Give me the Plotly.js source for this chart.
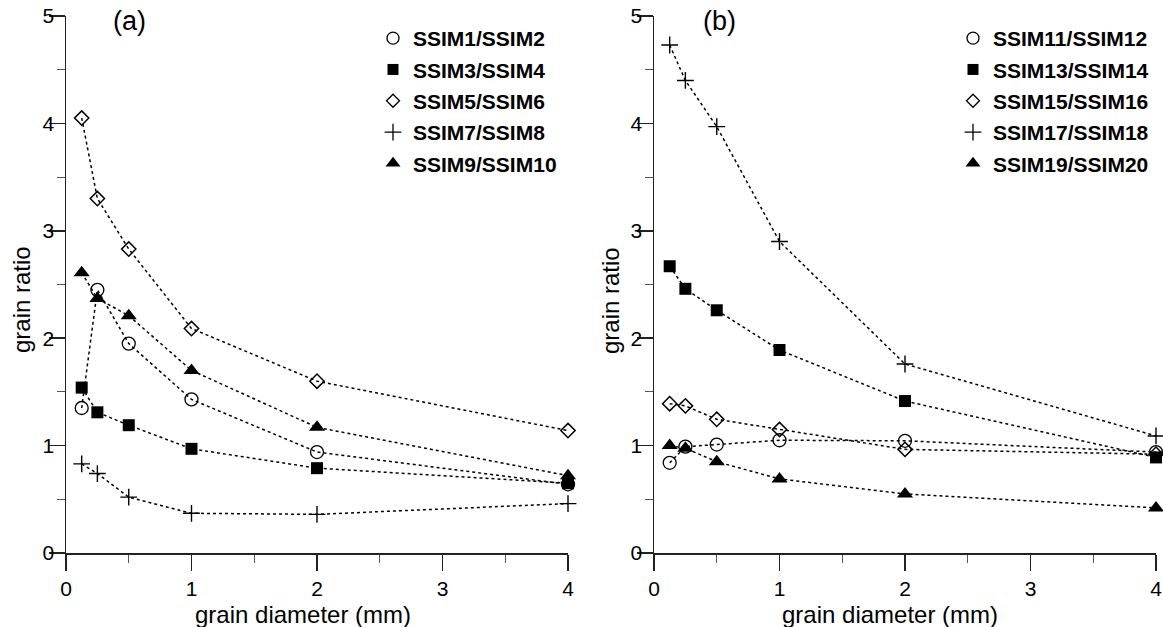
<!DOCTYPE html>
<html><head><meta charset="utf-8">
<script src="https://cdn.plot.ly/plotly-3.0.1.min.js"></script>
<style>html,body{margin:0;padding:0;background:#fff}</style>
</head><body>
<div id="chart" style="width:1163px;height:627px"></div>
<script>
const diameters = [0.125, 0.25, 0.5, 1, 2, 4];

const namesA = ['SSIM1/SSIM2', 'SSIM3/SSIM4', 'SSIM5/SSIM6', 'SSIM7/SSIM8', 'SSIM9/SSIM10'];
const ssim1_2   = [1.35, 2.45, 1.95, 1.43, 0.94, 0.64];
const ssim3_4   = [1.54, 1.31, 1.19, 0.97, 0.79, 0.65];
const ssim5_6   = [4.05, 3.30, 2.83, 2.09, 1.60, 1.14];
const ssim7_8   = [0.83, 0.74, 0.52, 0.37, 0.36, 0.46];
const ssim9_10  = [2.61, 2.37, 2.21, 1.70, 1.17, 0.72];

const namesB = ['SSIM11/SSIM12', 'SSIM13/SSIM14', 'SSIM15/SSIM16', 'SSIM17/SSIM18', 'SSIM19/SSIM20'];
const ssim11_12 = [0.84, 0.99, 1.01, 1.05, 1.045, 0.94];
const ssim13_14 = [2.67, 2.46, 2.26, 1.89, 1.415, 0.89];
const ssim15_16 = [1.39, 1.37, 1.245, 1.15, 0.965, 0.92];
const ssim17_18 = [4.73, 4.40, 3.97, 2.90, 1.76, 1.09];
const ssim19_20 = [1.00, 0.975, 0.85, 0.69, 0.55, 0.42];

const xTitle = 'grain diameter (mm)';
const yTitle = 'grain ratio';
const panelLabels = ['(a)', '(b)'];

const seriesA = [ssim1_2, ssim3_4, ssim5_6, ssim7_8, ssim9_10];
const seriesB = [ssim11_12, ssim13_14, ssim15_16, ssim17_18, ssim19_20];

const markers = [
  {symbol: 'circle-open', size: 13, color: '#000', line: {width: 1.3, color: '#000'}},
  {symbol: 'square', size: 12, color: '#000', line: {width: 0}},
  {symbol: 'diamond-open', size: 11, color: '#000', line: {width: 1.5, color: '#000'}},
  {symbol: 'cross-thin-open', size: 12, color: '#000', line: {width: 1.4, color: '#000'}},
  {symbol: 'triangle-up', size: 14, color: '#000', line: {width: 0}}
];
const legMarkers = [
  {symbol: 'circle-open', size: 12, color: '#000', line: {width: 1.3, color: '#000'}},
  {symbol: 'square', size: 11, color: '#000', line: {width: 0}},
  {symbol: 'diamond-open', size: 10, color: '#000', line: {width: 1.3, color: '#000'}},
  {symbol: 'cross-thin-open', size: 12, color: '#000', line: {width: 1.3, color: '#000'}},
  {symbol: 'triangle-up', size: 13, color: '#000', line: {width: 0}}
];

const traces = [];
function addPanel(series, names, xa, ya, leg) {
  series.forEach((vals, i) => {
    traces.push({
      x: diameters, y: vals, xaxis: xa, yaxis: ya, mode: 'lines+markers',
      line: {color: '#000', width: 1.5, dash: 'dot'},
      marker: markers[i], showlegend: false, cliponaxis: false, hoverinfo: 'skip'
    });
  });
  names.forEach((n, i) => {
    traces.push({
      x: [null], y: [null], xaxis: xa, yaxis: ya, mode: 'markers', name: n,
      marker: legMarkers[i], legend: leg, legendgroup: leg + i, showlegend: true
    });
  });
}
addPanel(seriesA, namesA, 'x', 'y', 'legend');
addPanel(seriesB, namesB, 'x2', 'y2', 'legend2');

const FAM = 'Liberation Sans, Arial, sans-serif';
const tickFont = {family: FAM, size: 21, color: '#000'};
const titleFont = {family: FAM, size: 24, color: '#000'};
function xaxis(domain, anchor) {
  return {
    domain: domain, anchor: anchor, range: [0, 4], dtick: 1, tick0: 0,
    showline: true, linecolor: '#222', linewidth: 1.5, ticks: 'outside', ticklen: 16,
    tickwidth: 1.5, tickcolor: '#222', showgrid: false, zeroline: false, mirror: false,
    tickfont: tickFont, minor: {dtick: 0.5, ticklen: 8, tickwidth: 1, tickcolor: '#555', ticks: 'outside', showgrid: false},
    automargin: false
  };
}
function yaxis(anchor) {
  return {
    domain: [0.118, 0.9745], anchor: anchor, range: [0, 5], dtick: 1, tick0: 0,
    showline: true, linecolor: '#222', linewidth: 1.5, ticks: 'outside', ticklen: 16,
    tickwidth: 1.5, tickcolor: '#222', showgrid: false, zeroline: false,
    tickfont: tickFont, ticklabelstandoff: -10,
    minor: {dtick: 0.5, ticklen: 8, tickwidth: 1, tickcolor: '#555', ticks: 'outside', showgrid: false},
    automargin: false
  };
}
const legFont = {family: FAM, size: 21, color: '#000', weight: 'bold'};
const W = 1163, H = 627;
const px = v => v / W, py = v => 1 - v / H;
function ann(text, x, y, font, extra) {
  return Object.assign({text: text, xref: 'paper', yref: 'paper', x: px(x), y: py(y),
    xanchor: 'center', yanchor: 'middle', showarrow: false, font: font}, extra || {});
}
const layout = {
  width: W, height: H, margin: {l: 0, r: 0, t: 0, b: 0},
  paper_bgcolor: '#fff', plot_bgcolor: '#fff', showlegend: true,
  xaxis: xaxis([px(66), px(568)], 'y'),
  yaxis: yaxis('x'),
  xaxis2: xaxis([px(654), px(1156)], 'y2'),
  yaxis2: yaxis('x2'),
  legend: {x: px(373), y: py(18), xanchor: 'left', yanchor: 'top', font: legFont, bgcolor: 'rgba(0,0,0,0)', tracegroupgap: 1, itemwidth: 30},
  legend2: {x: px(953), y: py(18), xanchor: 'left', yanchor: 'top', font: legFont, bgcolor: 'rgba(0,0,0,0)', tracegroupgap: 1, itemwidth: 30},
  annotations: [
    ann(panelLabels[0], 129, 21, {family: FAM, size: 27, color: '#000'}),
    ann(panelLabels[1], 719, 21, {family: FAM, size: 27, color: '#000'}),
    ann(xTitle, 303, 614, titleFont),
    ann(xTitle, 890, 614, titleFont),
    ann(yTitle, 21, 300, titleFont, {textangle: -90}),
    ann(yTitle, 610, 300, titleFont, {textangle: -90})
  ]
};
Plotly.newPlot('chart', traces, layout, {displayModeBar: false, staticPlot: true});
</script>
</body></html>
